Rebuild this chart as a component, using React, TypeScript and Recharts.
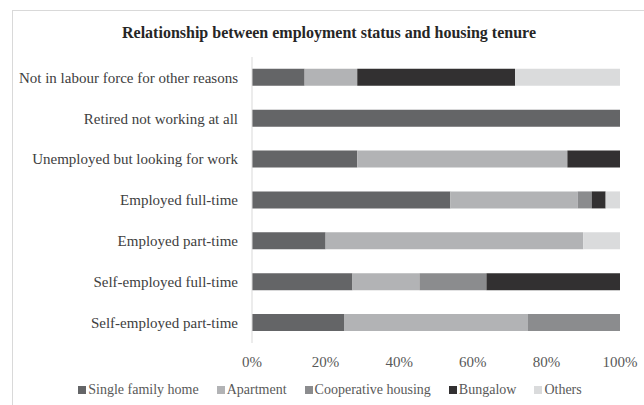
import React from 'react';
import { BarChart, Bar, XAxis, YAxis } from 'recharts';

const categories = [
  'Not in labour force for other reasons',
  'Retired not working at all',
  'Unemployed but looking for work',
  'Employed full-time',
  'Employed part-time',
  'Self-employed full-time',
  'Self-employed part-time',
];

const singleFamily = [14.3, 100, 28.6, 53.9, 20, 27.3, 25];
const apartment = [14.3, 0, 57.1, 34.6, 70, 18.2, 50];
const cooperative = [0, 0, 0, 3.8, 0, 18.2, 25];
const bungalow = [42.9, 0, 14.3, 3.8, 0, 36.3, 0];
const others = [28.5, 0, 0, 3.9, 10, 0, 0];

const xTicks = [0, 0.2, 0.4, 0.6, 0.8, 1];

const series = [
  { key: 'single', name: 'Single family home', color: '#646567' },
  { key: 'apartment', name: 'Apartment', color: '#b2b3b5' },
  { key: 'coop', name: 'Cooperative housing', color: '#8b8c8e' },
  { key: 'bungalow', name: 'Bungalow', color: '#323031' },
  { key: 'others', name: 'Others', color: '#dadbdc' },
];

const data = categories.map((name, i) => ({
  name,
  single: singleFamily[i],
  apartment: apartment[i],
  coop: cooperative[i],
  bungalow: bungalow[i],
  others: others[i],
}));

const FONT = "'Liberation Serif', 'Times New Roman', serif";

// legend drawn as plain html under the plot
const LegendRow = () => (
  <div
    style={{
      position: 'absolute',
      left: 0,
      top: 378,
      width: 644,
      height: 24,
      display: 'flex',
      justifyContent: 'center',
      paddingLeft: 34,
      boxSizing: 'border-box',
      fontFamily: FONT,
      fontSize: 14,
      color: '#595959',
      lineHeight: '24px',
      whiteSpace: 'nowrap',
    }}
  >
    {series.map((s) => (
      <span key={s.key} style={{ display: 'inline-flex', alignItems: 'center', marginRight: 18 }}>
        <span style={{ width: 8, height: 8, background: s.color, marginRight: 2, display: 'inline-block' }} />
        {s.name}
      </span>
    ))}
  </div>
);

export default function App() {
  return (
    <div style={{ position: 'fixed', left: 0, top: 0, width: 644, height: 405, overflow: 'hidden', background: '#fff' }}>
      <div
        style={{
          position: 'absolute',
          left: 12,
          top: 10,
          width: 640,
          height: 400,
          border: '1px solid #d9d9d9',
        }}
      />
      <div
        style={{
          position: 'absolute',
          left: 12,
          width: 634,
          top: 24,
          textAlign: 'center',
          fontFamily: FONT,
          fontWeight: 'bold',
          fontSize: 16,
          color: '#262626',
        }}
      >
        Relationship between employment status and housing tenure
      </div>
      <div style={{ position: 'absolute', left: 0, top: 0 }}>
        <BarChart
          width={644}
          height={405}
          data={data}
          layout="vertical"
          stackOffset="expand"
          barCategoryGap="29%"
          margin={{ top: 57, right: 24, left: 0, bottom: 27 }}
        >
          <XAxis
            type="number"
            domain={[0, 1]}
            ticks={xTicks}
            tickFormatter={(v: number) => `${Math.round(v * 100)}%`}
            axisLine={false}
            tickLine={false}
            tickMargin={7}
            height={35}
            tick={{ fill: '#595959', fontSize: 15, fontFamily: FONT }}
            interval={0}
          />
          <YAxis
            type="category"
            dataKey="name"
            width={252}
            axisLine={{ stroke: '#d9d9d9' }}
            tickLine={false}
            tickMargin={8}
            interval={0}
            tick={{ fill: '#404040', fontSize: 15, fontFamily: FONT }}
          />
          {series.map((s) => (
            <Bar key={s.key} dataKey={s.key} name={s.name} stackId="a" fill={s.color} isAnimationActive={false} />
          ))}
        </BarChart>
      </div>
      <LegendRow />
    </div>
  );
}
